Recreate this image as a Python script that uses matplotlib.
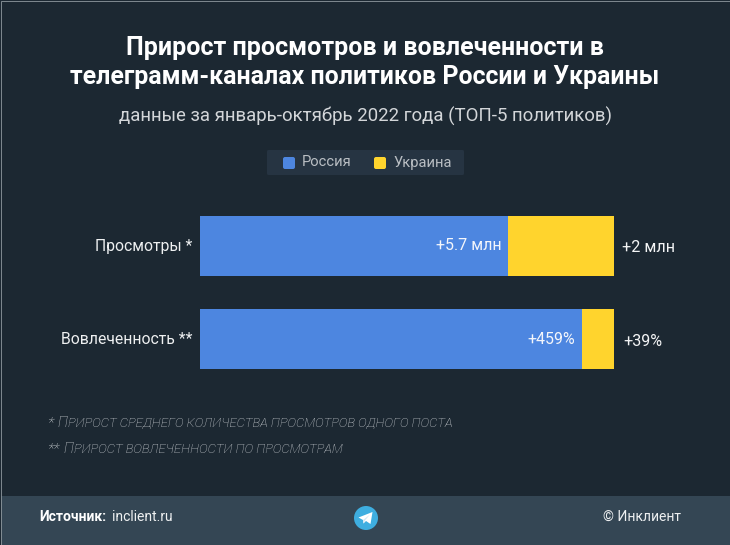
import matplotlib
matplotlib.use("Agg")
import matplotlib.pyplot as plt
from matplotlib.patches import Rectangle, FancyBboxPatch, Circle, Polygon

W, H = 730, 545

categories = ["Просмотры *", "Вовлеченность **"]
# unrounded estimates behind the printed +5.7 млн / +2 млн, read from the bar split
russia = [5.74, 459]
ukraine = [1.98, 39]
russia_labels = ["+5.7 млн", "+459%"]
ukraine_labels = ["+2 млн", "+39%"]
series_names = ["Россия", "Украина"]
colors = ["#4d86e0", "#ffd42d"]

BG = "#1c2832"
FOOT = "#344654"
LEG = "#263442"
NOTE = "#d0d4d8"

plt.rcParams["font.family"] = ["Roboto", "DejaVu Sans"]

fig = plt.figure(figsize=(W / 100, H / 100), dpi=100, facecolor=BG)

# pixel canvas for panels, legend and all free text
bg = fig.add_axes([0, 0, 1, 1], zorder=0)
bg.set_xlim(0, W)
bg.set_ylim(H, 0)
bg.axis("off")


def txt(x, y, s, size, color="white", ha="left", **kw):
    return bg.text(x, y, s, fontsize=size, color=color, ha=ha, va="center", **kw)


bg.add_patch(Rectangle((1, 496), W, 49, fc=FOOT, ec="none"))
bg.add_patch(Rectangle((0.5, 0.5), W - 1, H - 1, fc="none", ec="#8f999f", lw=0.6))

txt(365, 48, "Прирост просмотров и вовлеченности в", 18, ha="center", fontweight="bold")
txt(365, 77, "телеграмм-каналах политиков России и Украины", 17.9, ha="center", fontweight="bold")
txt(365.5, 116, "данные за январь-октябрь 2022 года (ТОП-5 политиков)", 13.4, color="#d3d6d9", ha="center")

# legend
bg.add_patch(FancyBboxPatch((268, 151), 195, 23, boxstyle="round,pad=1,rounding_size=1.5", fc=LEG, ec="none"))
for x0, name, c, tx in zip([283, 374], series_names, colors, [302, 393]):
    bg.add_patch(FancyBboxPatch((x0 + 1.5, 158.5), 9, 9, boxstyle="round,pad=1.5,rounding_size=2", fc=c, ec="none"))
    txt(tx, 162.5, name, 10.6, color="#b9bec3")

# bars, 100% stacked
ax = fig.add_axes([200 / W, 1 - 385 / H, 414 / W, 185 / H], zorder=1)
ax.set_facecolor("none")
shares_r = [r / (r + u) for r, u in zip(russia, ukraine)]
shares_u = [u / (r + u) for r, u in zip(russia, ukraine)]
pos = [0, 1]
ax.barh(pos, shares_r, height=60 / 93, color=colors[0], label=series_names[0])
ax.barh(pos, shares_u, left=shares_r, height=60 / 93, color=colors[1], label=series_names[1])
ax.set_xlim(0, 1)
ax.set_ylim(1 + 46 / 93, -46 / 93)
ax.axis("off")

for i, cat in enumerate(categories):
    ax.annotate(cat, (0, pos[i]), xytext=(-5.3, 0), textcoords="offset points", ha="right", va="center",
                fontsize=11.3, color="#eef0f1", annotation_clip=False)
    ax.annotate(russia_labels[i], (shares_r[i], pos[i]), xytext=(-4.8, 0), textcoords="offset points",
                ha="right", va="center", fontsize=11.5, color="#f4f6fb")
ax.annotate(ukraine_labels[0], (1, pos[0]), xytext=(6, -1), textcoords="offset points", ha="left", va="center",
            fontsize=11.6, color="#f4f5f6", annotation_clip=False)
ax.annotate(ukraine_labels[1], (1, pos[1]), xytext=(7, -2), textcoords="offset points", ha="left", va="center",
            fontsize=11.6, color="#f4f5f6", annotation_clip=False)


# small-caps italic footnotes
def small_caps(x, y, star, first, rest):
    r = fig.canvas.get_renderer()
    t = txt(x, y, star, 11, color=NOTE, style="italic", fontweight="light")
    x1 = x + t.get_window_extent(r).width + 4
    t = txt(x1, y, first, 10.5, color=NOTE, style="italic", fontweight="light")
    x2 = x1 + t.get_window_extent(r).width + 1
    txt(x2, y + 0.5, rest, 9.47, color=NOTE, style="italic", fontweight="light")


small_caps(47, 423, "*", "П", "РИРОСТ СРЕДНЕГО КОЛИЧЕСТВА ПРОСМОТРОВ ОДНОГО ПОСТА")
small_caps(47, 449, "**", "П", "РИРОСТ ВОВЛЕЧЕННОСТИ ПО ПРОСМОТРАМ")

# footer text
txt(39.5, 517, "Источник:", 10, fontweight="bold")
txt(112, 517, "inclient.ru", 10, color="#eef0f1")
txt(681, 517, "© Инклиент", 10, color="#eef0f1", ha="right")

# telegram icon
bg.add_patch(Circle((366, 518), 12, fc="#3eaee0", ec="none"))
bg.add_patch(Polygon([(358.5, 517.5), (372.5, 512), (370.5, 524), (366, 521), (363.5, 523.5), (363, 520)], fc="white", ec="none"))
bg.add_patch(Polygon([(363, 520), (370, 514.5), (365, 520.5), (363.5, 523.5)], fc="#d5e8f3", ec="none"))

fig.savefig("out.png", dpi=100, facecolor=BG)
